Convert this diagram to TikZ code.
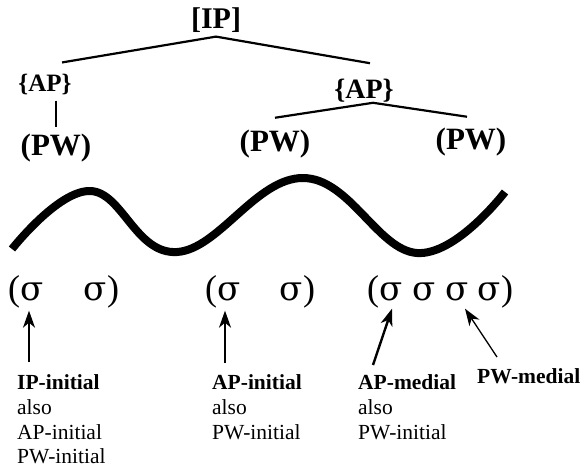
\documentclass[tikz,border=0pt]{standalone}
\usepackage{fontspec}
\setmainfont{Liberation Serif}
\newfontfamily\sigmafont{DejaVu Serif}
\usetikzlibrary{arrows.meta,positioning,calc}

\tikzset{
    cat/.style={inner sep=0pt, font=\fontsize{#1}{#1}\selectfont\bfseries},
    syl/.style={inner sep=0pt, anchor=base, font=\fontsize{34}{40}\selectfont\sigmafont},
    brack/.style={inner sep=0pt, font=\fontsize{36}{40}\selectfont},
    note/.style={inner sep=0pt, anchor=north west, align=left,
        font=\fontsize{21.5}{24.7}\selectfont},
    branch/.style={line width=2.2pt},
    pitch/.style={line width=8pt, line join=round},
    pointer/.style={-{Stealth[length=17pt,width=12pt,inset=5pt]}, line width=#1},
    pointer/.default=1.7pt
}

\begin{document}
\begin{tikzpicture}[x=1pt, y=1pt]
    \useasboundingbox (0,0) rectangle (584,-468);

    % prosodic tree
    \node[cat=30] (ip)  at (216,-20)  {[IP]};
    \node[cat=25] (apl) at (45,-85)   {\{AP\}};
    \node[cat=28] (apr) at (364,-91)  {\{AP\}};
    \node[cat=31] (pwl) at (56,-148)  {(PW)};
    \node[cat=31] (pwm) at (275,-144) {(PW)};
    \node[cat=31] (pwr) at (471,-142) {(PW)};

    \draw[branch] ($(apl.north)+(17,12)$) -- ($(ip.south)+(0,-4)$) -- ($(apr.north)+(6,16)$);
    \draw[branch, line width=1.8pt] ($(pwl.north)+(0,33)$) -- ($(pwl.north)+(0,7)$);
    \draw[branch] ($(pwm.north)+(0,12)$) -- ($(apr.south)+(9,0)$) -- ($(pwr.north)+(-4,11)$);

    % pitch contour
    \draw[pitch] plot[smooth, tension=0.7] coordinates
        {(12,-249) (90,-191) (177,-252) (303,-178) (417,-253) (505,-192)};

    % syllables
    \node[syl] (sa1) at (32,-300)  {σ};
    \node[syl] (sa2) at (95,-300)  {σ};
    \node[syl] (sb1) at (229,-300) {σ};
    \node[syl] (sb2) at (291,-300) {σ};
    \node[syl] (sc1) at (391,-300) {σ};
    \node[syl] (sc2) at (424,-300) {σ};
    \node[syl] (sc3) at (457,-300) {σ};
    \node[syl] (sc4) at (489,-300) {σ};
    \node[brack, anchor=base east] (oa) at (sa1.base west) {(};
    \node[brack, anchor=base west] (ca) at (sa2.base east) {)};
    \node[brack, anchor=base east] (ob) at (sb1.base west) {(};
    \node[brack, anchor=base west] (cb) at (sb2.base east) {)};
    \node[brack, anchor=base east] (oc) at (sc1.base west) {(};
    \node[brack, anchor=base west] (cc) at (sc4.base east) {)};

    % position labels
    \node[note] (lab1) at (17,-374.5)  {\textbf{IP-initial}\\also\\AP-initial\\PW-initial};
    \node[note] (lab2) at (212,-374.5) {\textbf{AP-initial}\\also\\PW-initial};
    \node[note] (lab3) at (358,-374.5) {\textbf{AP-medial}\\also\\PW-initial};
    \node[note] (lab4) at (477,-368)   {\textbf{PW-medial}};

    \draw[pointer] ($(lab1.north west)+(12,12.5)$) -- ($(sa1.south)+(-3,-10)$);
    \draw[pointer] ($(lab2.north west)+(13,11.5)$) -- ($(sb1.south)+(-4,-10)$);
    \draw[pointer=2.4pt] ($(lab3.north west)+(15,9.5)$) -- ($(sc1.south)+(1,-8)$);
    \draw[pointer=1.3pt] ($(lab4.north west)+(20,11)$) -- ($(sc3.south)+(8,-8)$);
\end{tikzpicture}
\end{document}
